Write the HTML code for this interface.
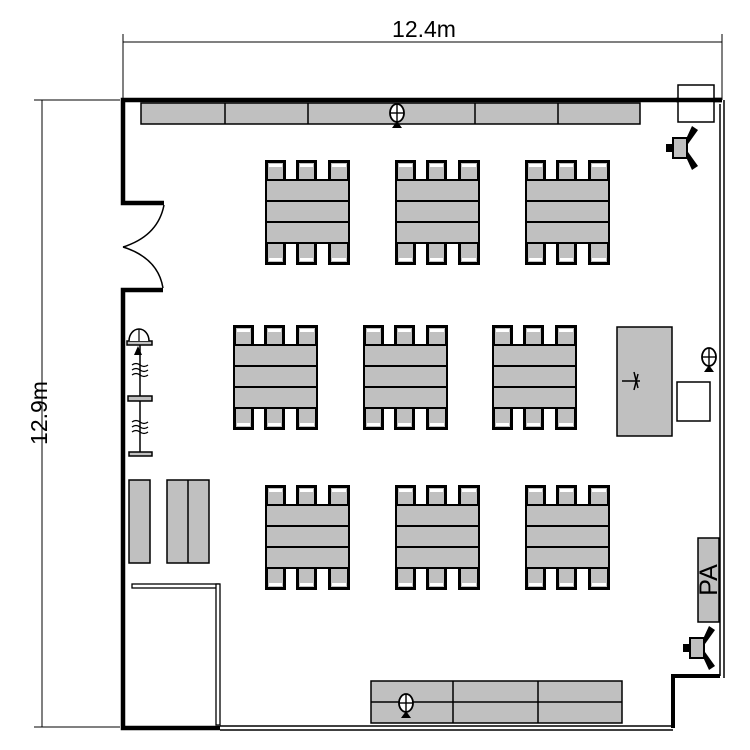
<!DOCTYPE html>
<html><head><style>body{margin:0;background:#fff}svg{display:block}</style></head><body>
<svg width="750" height="750" viewBox="0 0 750 750" xmlns="http://www.w3.org/2000/svg" font-family="Liberation Sans, sans-serif">
<defs>
<g id="grp">
  <g id="chrow">
    <path d="M1.5 21 V1.5 H19.5 V21" fill="#c0c0c0" stroke="#000" stroke-width="3"/>
    <rect x="4" y="4" width="13" height="3" fill="#fff"/>
    <path d="M32.5 21 V1.5 H50.5 V21" fill="#c0c0c0" stroke="#000" stroke-width="3"/>
    <rect x="35" y="4" width="13" height="3" fill="#fff"/>
    <path d="M64.5 21 V1.5 H83.5 V21" fill="#c0c0c0" stroke="#000" stroke-width="3"/>
    <rect x="67" y="4" width="14" height="3" fill="#fff"/>
  </g>
  <use href="#chrow" transform="translate(0,105) scale(1,-1)"/>
  <rect x="1" y="20" width="83" height="63" fill="#c0c0c0" stroke="#000" stroke-width="2"/>
  <line x1="1" y1="41" x2="84" y2="41" stroke="#000" stroke-width="2"/>
  <line x1="1" y1="62" x2="84" y2="62" stroke="#000" stroke-width="2"/>
</g>
<g id="mic">
  <ellipse cx="0" cy="-1" rx="7" ry="9" fill="#fff" stroke="#000" stroke-width="1.8"/>
  <line x1="0" y1="-10" x2="0" y2="8" stroke="#000" stroke-width="1.4"/>
  <line x1="-7" y1="-1" x2="7" y2="-1" stroke="#000" stroke-width="1.4"/>
  <path d="M-5 14 L0 7 L5 14 Z" fill="#000"/>
</g>
<g id="spk">
  <rect x="-7" y="-10" width="14" height="20" fill="#c0c0c0" stroke="#000" stroke-width="2"/>
  <rect x="-14" y="-4" width="7" height="8" fill="#000"/>
  <path d="M6 -9 L12 -22 L18 -18 L8 -4 Z" fill="#000"/>
  <path d="M6 9 L12 22 L18 18 L8 4 Z" fill="#000"/>
</g>
</defs>

<g stroke="#000" stroke-width="1">
  <line x1="123" y1="42" x2="722" y2="42"/>
  <line x1="123" y1="34" x2="123" y2="100"/>
  <line x1="722" y1="34" x2="722" y2="100"/>
  <line x1="42" y1="100" x2="42" y2="727"/>
  <line x1="34" y1="100" x2="120" y2="100"/>
  <line x1="34" y1="727" x2="120" y2="727"/>
</g>
<text x="424" y="37" font-size="23" text-anchor="middle">12.4m</text>
<text transform="translate(47,413) rotate(-90)" font-size="23" text-anchor="middle">12.9m</text>

<g fill="none" stroke="#000" stroke-linejoin="miter">
  <path d="M164 203 H123 V100 H722" stroke-width="4.5"/>
  <path d="M163 290 H123 V728 H220" stroke-width="4.5"/>
  <line x1="220" y1="726" x2="673" y2="726" stroke-width="1.5"/>
  <line x1="220" y1="730" x2="673" y2="730" stroke-width="1.5"/>
  <path d="M673 728 V676 H720" stroke-width="4"/>
  <line x1="720" y1="104" x2="720" y2="676" stroke-width="1.5"/>
  <line x1="724" y1="100" x2="724" y2="678" stroke-width="1.5"/>
  <path d="M164 205 Q158 236 123 247" stroke-width="1.5"/>
  <path d="M163 288 Q158 258 123 247" stroke-width="1.5"/>
</g>

<rect x="141" y="103" width="499" height="21" fill="#c0c0c0" stroke="#000" stroke-width="1.5"/>
<g stroke="#000" stroke-width="1.5">
  <line x1="225" y1="103" x2="225" y2="124"/>
  <line x1="308" y1="103" x2="308" y2="124"/>
  <line x1="475" y1="103" x2="475" y2="124"/>
  <line x1="558" y1="103" x2="558" y2="124"/>
</g>
<use href="#mic" transform="translate(397,114)"/>

<rect x="678" y="85" width="36" height="37" fill="#fff" stroke="#000" stroke-width="1.5"/>
<line x1="676" y1="100" x2="722" y2="100" stroke="#000" stroke-width="4.5"/>
<use href="#spk" transform="translate(680,148)"/>
<use href="#spk" transform="translate(697,648)"/>

<use href="#grp" x="265" y="160"/>
<use href="#grp" x="395" y="160"/>
<use href="#grp" x="525" y="160"/>
<use href="#grp" x="233" y="325"/>
<use href="#grp" x="363" y="325"/>
<use href="#grp" x="492" y="325"/>
<use href="#grp" x="265" y="485"/>
<use href="#grp" x="395" y="485"/>
<use href="#grp" x="525" y="485"/>

<rect x="617" y="327" width="55" height="109" fill="#c0c0c0" stroke="#000" stroke-width="1.5"/>
<g stroke="#000" stroke-width="1.5" fill="none">
  <line x1="622" y1="381" x2="640" y2="381"/>
  <line x1="638" y1="374" x2="634" y2="390"/>
  <line x1="638" y1="388" x2="634" y2="372"/>
</g>
<rect x="677" y="382" width="33" height="39" fill="#fff" stroke="#000" stroke-width="1.5"/>
<use href="#mic" transform="translate(709,358)"/>

<rect x="698" y="538" width="21" height="84" fill="#c0c0c0" stroke="#000" stroke-width="1.5"/>
<text transform="translate(717,580) rotate(-90)" font-size="25" text-anchor="middle">PA</text>

<rect x="371" y="681" width="251" height="42" fill="#c0c0c0" stroke="#000" stroke-width="1.5"/>
<g stroke="#000" stroke-width="1.5">
  <line x1="453" y1="681" x2="453" y2="723"/>
  <line x1="538" y1="681" x2="538" y2="723"/>
  <line x1="371" y1="702" x2="622" y2="702"/>
</g>
<use href="#mic" transform="translate(406,704)"/>

<g stroke="#000" stroke-width="1.5" fill="#c0c0c0">
  <line x1="140" y1="340" x2="140" y2="455"/>
  <rect x="127" y="341" width="25" height="4"/>
  <rect x="128" y="396" width="24" height="5"/>
  <rect x="129" y="452" width="23" height="4"/>
</g>
<g stroke="#000" stroke-width="1.2" fill="none">
  <path d="M132 365 q4 -3 8 0 q4 3 8 0 M132 370 q4 -3 8 0 q4 3 8 0 M132 375 q4 -3 8 0 q4 3 8 0"/>
  <path d="M132 422 q4 -3 8 0 q4 3 8 0 M132 427 q4 -3 8 0 q4 3 8 0 M132 432 q4 -3 8 0 q4 3 8 0"/>
</g>
<path d="M129 341 A10 12 0 0 1 149 341" fill="#fff" stroke="#000" stroke-width="1.5"/>
<line x1="139" y1="329" x2="139" y2="341" stroke="#000" stroke-width="1.2"/>
<path d="M134 355 L138 346 L142 355 Z" fill="#000"/>

<rect x="129" y="480" width="21" height="83" fill="#c0c0c0" stroke="#000" stroke-width="1.5"/>
<rect x="167" y="480" width="42" height="83" fill="#c0c0c0" stroke="#000" stroke-width="1.5"/>
<line x1="188" y1="480" x2="188" y2="563" stroke="#000" stroke-width="1.5"/>

<rect x="132" y="584" width="87" height="4" fill="#fff" stroke="#000" stroke-width="1.3"/>
<rect x="216" y="584" width="4" height="141" fill="#fff" stroke="#000" stroke-width="1.3"/>
</svg>
</body></html>
